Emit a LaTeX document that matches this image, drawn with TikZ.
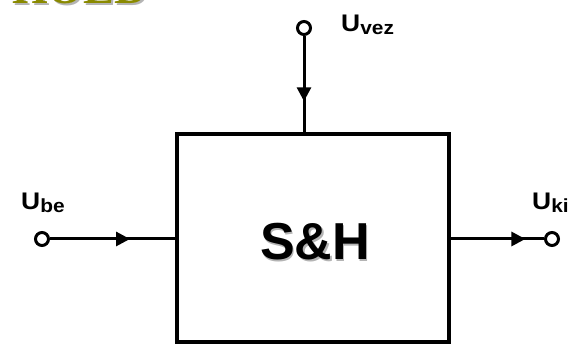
\documentclass[tikz,border=0pt]{standalone}
\usepackage{fontspec}
\setmainfont{Liberation Sans}
\newfontfamily\titlefont{Liberation Serif}
\usetikzlibrary{arrows.meta,positioning,calc,decorations.markings}
\definecolor{HoldOlive}{HTML}{8A8A00}
\definecolor{SoftShadow}{HTML}{B4B4B4}
\newcommand{\Usig}[1]{{\fontsize{24}{24}\selectfont\bfseries U}\raisebox{-3pt}{\fontsize{19}{19}\selectfont\bfseries #1}}

\begin{document}
\begin{tikzpicture}[x=1pt,y=1pt,>=Latex,
  port/.style={draw,circle,line width=3pt,minimum size=13pt,inner sep=0pt},
  wire/.style={line width=3pt},
  flow/.style={wire,postaction={decorate},decoration={markings,
    mark=at position #1 with {\arrow{Triangle[length=14pt,width=14pt]}}}},
  siglabel/.style={inner sep=0pt,anchor=base west,xscale=1.1}]
  \useasboundingbox (0,0) rectangle (571,344);
  % cut-off title
  \begin{scope}
    \clip (0,0) rectangle (571,344);
    \node[anchor=base west,inner sep=0pt,text=SoftShadow,font=\titlefont\fontsize{46}{46}\selectfont\bfseries] (titleshadow) at (14,338) {HOLD};
    \node[anchor=base west,inner sep=0pt,text=HoldOlive,font=\titlefont\fontsize{46}{46}\selectfont\bfseries] (title) at (12,340) {HOLD};
  \end{scope}
  % block
  \node[draw,line width=4pt,minimum width=272pt,minimum height=208pt] (sh) at (313,106) {};
  \node[text=SoftShadow,font=\fontsize{52}{52}\selectfont\bfseries] (shshadow) at ($(sh.center)+(3.5,-5.5)$) {S\&H};
  \node[font=\fontsize{52}{52}\selectfont\bfseries] (shtext) at ($(sh.center)+(2,-4)$) {S\&H};
  % ports
  \node[port] (vez) at (304,316) {};
  \node[port] (be) at (42,105) {};
  \node[port] (ki) at (552,105) {};
  \node[siglabel] (lvez) at (341,312) {\Usig{vez}};
  \node[siglabel] (lbe) at (21,134) {\Usig{be}};
  \node[siglabel] (lki) at (532,134) {\Usig{ki}};
  % connectors
  \draw[flow=0.68] (vez) -- (vez |- sh.north);
  \draw[flow=0.64] (be) -- (be -| sh.west);
  \draw[flow=0.8] (sh.east |- ki) -- (ki);
\end{tikzpicture}
\end{document}
